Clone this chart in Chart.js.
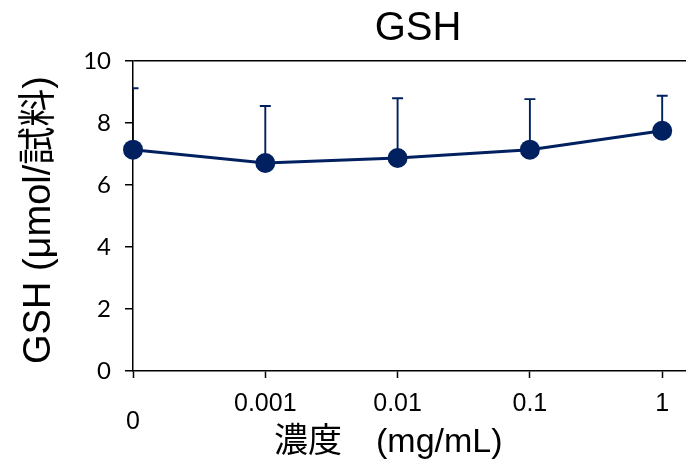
<!DOCTYPE html>
<html>
<head>
<meta charset="utf-8">
<script src="https://cdn.jsdelivr.net/npm/chart.js@4/dist/chart.umd.min.js"></script>
<style>
  html, body { margin: 0; padding: 0; background: #fff; }
  canvas { display: block; }
</style>
</head>
<body>
<canvas id="c" width="686" height="463"></canvas>
<script>
// Concentration categories and GSH content (mean and upper standard deviation)
const categories = ['0', '0.001', '0.01', '0.1', '1'];
const gshMean = [7.14, 6.71, 6.87, 7.14, 7.75];
const gshSD = [1.98, 1.84, 1.93, 1.63, 1.13];
const yTicks = [0, 2, 4, 6, 8, 10];

const chartTitle = 'GSH';
const yTitle = 'GSH (μmol/試料)';
const xTitle = '濃度　(mg/mL)';

const NAVY = '#002060';
const LATIN_CJK = "'Liberation Sans', 'Noto Sans CJK JP', sans-serif";

// Upward-only error bars with a short cap, drawn underneath the markers
const errorBars = {
  id: 'errorBars',
  beforeDatasetsDraw(chart) {
    const { ctx, chartArea, scales } = chart;
    const xs = scales.x, ys = scales.y;
    ctx.save();
    ctx.beginPath();
    ctx.rect(chartArea.left, 0, chartArea.right - chartArea.left, chartArea.bottom);
    ctx.clip();
    ctx.strokeStyle = NAVY;
    ctx.lineWidth = 1.9;
    gshMean.forEach((m, i) => {
      const px = xs.getPixelForValue(i);
      const y0 = ys.getPixelForValue(m);
      const y1 = ys.getPixelForValue(m + gshSD[i]);
      ctx.beginPath();
      ctx.moveTo(px, y0);
      ctx.lineTo(px, y1);
      ctx.moveTo(px - 5.5, y1);
      ctx.lineTo(px + 5.5, y1);
      ctx.stroke();
    });
    ctx.restore();
  }
};

// Chart title and axis titles
const titles = {
  id: 'titles',
  afterDraw(chart) {
    const ctx = chart.ctx;
    ctx.save();
    ctx.fillStyle = '#000';
    ctx.textBaseline = 'alphabetic';

    ctx.font = "40px " + LATIN_CJK;
    ctx.textAlign = 'center';
    ctx.fillText(chartTitle, 418, 40);

    ctx.font = "34px " + LATIN_CJK;
    ctx.textAlign = 'left';
    ctx.fillText(xTitle, 274, 452);

    ctx.translate(50, 220);
    ctx.rotate(-Math.PI / 2);
    ctx.font = "38px " + LATIN_CJK;
    ctx.textAlign = 'center';
    ctx.fillText(yTitle, 0, 0);
    ctx.restore();
  }
};

new Chart(document.getElementById('c'), {
  type: 'line',
  data: {
    datasets: [{
      data: gshMean.map((v, i) => ({ x: i, y: v })),
      borderColor: NAVY,
      borderWidth: 3,
      pointRadius: 10,
      pointBackgroundColor: NAVY,
      pointBorderWidth: 0,
      pointStyle: 'circle',
      tension: 0,
      clip: false
    }]
  },
  options: {
    responsive: false,
    animation: false,
    events: [],
    layout: { autoPadding: false, padding: { top: 61, right: 0, bottom: 0, left: 0 } },
    plugins: {
      legend: { display: false },
      tooltip: { enabled: false },
      title: { display: false }
    },
    scales: {
      x: {
        type: 'linear',
        min: 0,
        max: 4.18,
        afterBuildTicks: s => { s.ticks = categories.map((_, i) => ({ value: i })); },
        afterFit: s => { s.height = 92; },
        ticks: {
          autoSkip: false,
          maxRotation: 0,
          color: '#000',
          padding: 11,
          font: c => ({ family: 'Liberation Sans', size: 25, lineHeight: c.index === 0 ? 0.88 : 1.2 }),
          callback: v => {
            const i = Math.round(v);
            return i === 0 ? ['', categories[0]] : categories[i];
          }
        },
        grid: { drawOnChartArea: false, tickLength: 7, tickColor: '#000', tickWidth: 1.5 },
        border: { color: '#000', width: 1.5 }
      },
      y: {
        min: 0,
        max: 10,
        afterBuildTicks: s => { s.ticks = yTicks.map(v => ({ value: v })); },
        afterFit: s => { s.width = 133; },
        ticks: {
          color: '#000',
          padding: 14,
          font: { family: 'Lato', size: 24 }
        },
        grid: {
          color: c => (c.tick && c.tick.value === 10 ? '#000' : 'rgba(0,0,0,0)'),
          lineWidth: 1.5,
          tickLength: 8,
          tickColor: '#000',
          tickWidth: 1.5
        },
        border: { color: '#000', width: 1.5 }
      }
    }
  },
  plugins: [errorBars, titles]
});
</script>
</body>
</html>
